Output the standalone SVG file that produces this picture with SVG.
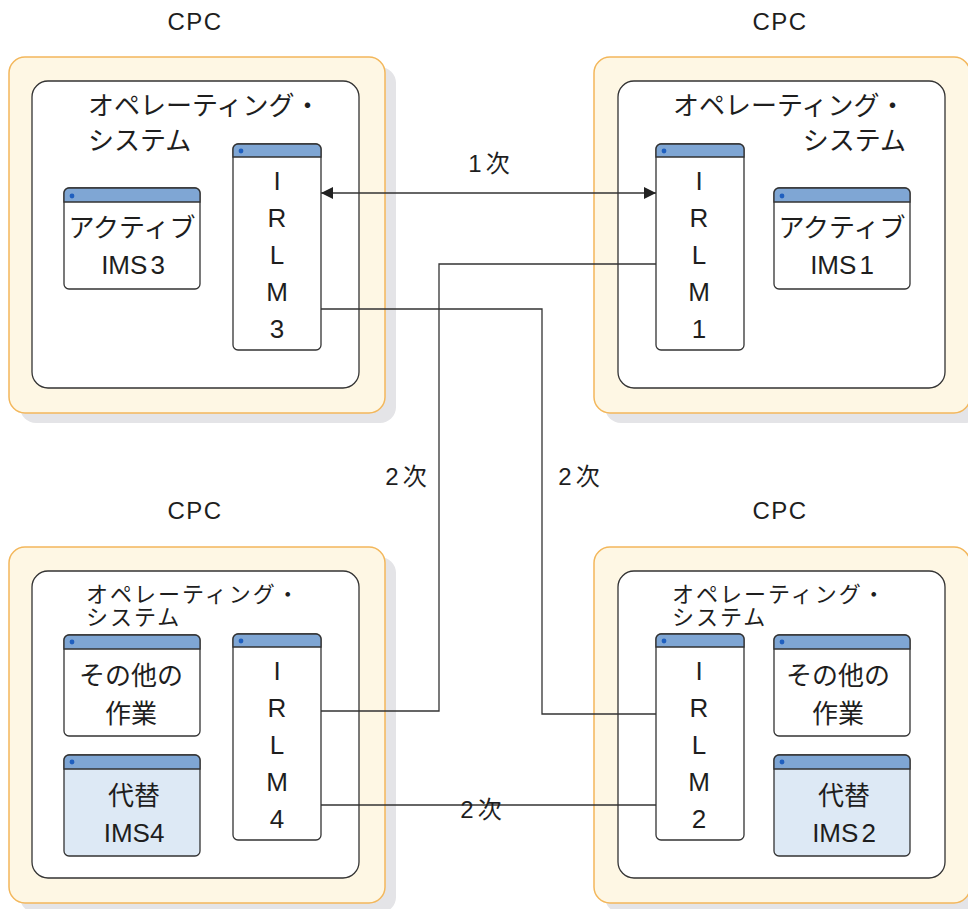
<svg xmlns="http://www.w3.org/2000/svg" width="968" height="909" viewBox="0 0 968 909">
<defs>
<style>
text{font-family:"Liberation Sans","Noto Sans CJK JP",sans-serif;fill:#1e1e1e;}
.lbl{font-size:24px;text-anchor:middle;}
.cpct{font-size:24px;text-anchor:middle;letter-spacing:1.5px;}
.os{font-size:26px;}
.os2{font-size:22px;letter-spacing:2px;}
.w{font-size:26px;text-anchor:middle;}
.wi{font-size:26px;text-anchor:middle;}
.ir{font-size:26px;text-anchor:middle;}
.shadow{fill:#e4e4e7;}
.cpc{fill:#fef7e4;stroke:#f3b75b;stroke-width:1.5;}
.inner{fill:#fff;stroke:#333;stroke-width:1.3;}
.win{fill:#fff;stroke:#333;stroke-width:1.3;}
.alt{fill:#dde9f5;}
.hdr{fill:#7fa6d4;stroke:#333;stroke-width:1.3;}
.dot{fill:#1f5fbf;}
.con{fill:none;stroke:#333;stroke-width:1.3;}
</style>
<marker id="ah" viewBox="0 0 12 12" refX="12" refY="6" markerWidth="12" markerHeight="12" markerUnits="userSpaceOnUse" orient="auto-start-reverse">
<path d="M0,0 L12,6 L0,12 z" fill="#222"/>
</marker>
</defs>
<rect width="968" height="909" fill="#fff"/>

<text class="cpct" x="195" y="30">CPC</text>
<text class="cpct" x="780" y="30">CPC</text>
<text class="cpct" x="195" y="519">CPC</text>
<text class="cpct" x="780" y="519">CPC</text>

<g id="cpc3">
<rect class="shadow" x="20" y="67" width="376" height="356" rx="16"/>
<rect class="cpc" x="9" y="57" width="376" height="356" rx="16"/>
<rect class="inner" x="32" y="81" width="327" height="307" rx="16"/>
<text class="os" x="88" y="115">オペレーティング・</text>
<text class="os" x="88" y="150">システム</text>
</g>
<g id="cpc1">
<rect class="shadow" x="605" y="67" width="376" height="356" rx="16"/>
<rect class="cpc" x="594" y="57" width="376" height="356" rx="16"/>
<rect class="inner" x="618" y="81" width="327" height="307" rx="16"/>
<text class="os" x="673" y="115">オペレーティング・</text>
<text class="os" x="906" y="150" text-anchor="end">システム</text>
</g>
<g id="cpc4">
<rect class="shadow" x="20" y="557" width="376" height="356" rx="16"/>
<rect class="cpc" x="9" y="547" width="376" height="356" rx="16"/>
<rect class="inner" x="32" y="571" width="327" height="307" rx="16"/>
<text class="os2" x="86" y="602">オペレーティング・</text>
<text class="os2" x="86" y="625">システム</text>
</g>
<g id="cpc2">
<rect class="shadow" x="605" y="557" width="376" height="356" rx="16"/>
<rect class="cpc" x="594" y="547" width="376" height="356" rx="16"/>
<rect class="inner" x="618" y="571" width="327" height="307" rx="16"/>
<text class="os2" x="672" y="602">オペレーティング・</text>
<text class="os2" x="672" y="625">システム</text>
</g>

<g id="connectors">
<line class="con" x1="321" y1="193" x2="656" y2="193" marker-start="url(#ah)" marker-end="url(#ah)"/>
<path class="con" d="M321,309 H542 V714 H656"/>
<path class="con" d="M656,264 H439 V711 H321"/>
<path class="con" d="M321,805 H656"/>
</g>

<g id="irlm3">
<rect class="win" x="233" y="144" width="88" height="206" rx="5"/>
<path class="hdr" d="M233,157 V149 a5,5 0 0 1 5,-5 H316 a5,5 0 0 1 5,5 V157 Z"/>
<circle class="dot" cx="241" cy="151" r="2.4"/>
<text class="ir" x="277" y="190">I</text>
<text class="ir" x="277" y="227">R</text>
<text class="ir" x="277" y="264">L</text>
<text class="ir" x="277" y="301">M</text>
<text class="ir" x="277" y="338">3</text>
</g>
<g id="irlm1">
<rect class="win" x="656" y="144" width="88" height="206" rx="5"/>
<path class="hdr" d="M656,157 V149 a5,5 0 0 1 5,-5 H739 a5,5 0 0 1 5,5 V157 Z"/>
<circle class="dot" cx="664" cy="151" r="2.4"/>
<text class="ir" x="699" y="190">I</text>
<text class="ir" x="699" y="227">R</text>
<text class="ir" x="699" y="264">L</text>
<text class="ir" x="699" y="301">M</text>
<text class="ir" x="699" y="338">1</text>
</g>
<g id="irlm4">
<rect class="win" x="233" y="634" width="88" height="206" rx="5"/>
<path class="hdr" d="M233,647 V639 a5,5 0 0 1 5,-5 H316 a5,5 0 0 1 5,5 V647 Z"/>
<circle class="dot" cx="241" cy="641" r="2.4"/>
<text class="ir" x="277" y="680">I</text>
<text class="ir" x="277" y="717">R</text>
<text class="ir" x="277" y="754">L</text>
<text class="ir" x="277" y="791">M</text>
<text class="ir" x="277" y="828">4</text>
</g>
<g id="irlm2">
<rect class="win" x="656" y="634" width="88" height="206" rx="5"/>
<path class="hdr" d="M656,647 V639 a5,5 0 0 1 5,-5 H739 a5,5 0 0 1 5,5 V647 Z"/>
<circle class="dot" cx="664" cy="641" r="2.4"/>
<text class="ir" x="699" y="680">I</text>
<text class="ir" x="699" y="717">R</text>
<text class="ir" x="699" y="754">L</text>
<text class="ir" x="699" y="791">M</text>
<text class="ir" x="699" y="828">2</text>
</g>

<g id="ims3">
<rect class="win" x="64" y="188" width="136" height="101" rx="5"/>
<path class="hdr" d="M64,202 V193 a5,5 0 0 1 5,-5 H195 a5,5 0 0 1 5,5 V202 Z"/>
<circle class="dot" cx="72" cy="196" r="2.4"/>
<text class="w" x="132" y="237">アクティブ</text>
<text class="wi" x="133" y="274">IMS<tspan dx="3">3</tspan></text>
</g>
<g id="ims1">
<rect class="win" x="774" y="188" width="136" height="101" rx="5"/>
<path class="hdr" d="M774,202 V193 a5,5 0 0 1 5,-5 H905 a5,5 0 0 1 5,5 V202 Z"/>
<circle class="dot" cx="782" cy="196" r="2.4"/>
<text class="w" x="842" y="237">アクティブ</text>
<text class="wi" x="842" y="274">IMS<tspan dx="3">1</tspan></text>
</g>
<g id="other4">
<rect class="win" x="64" y="635" width="136" height="101" rx="5"/>
<path class="hdr" d="M64,649 V640 a5,5 0 0 1 5,-5 H195 a5,5 0 0 1 5,5 V649 Z"/>
<circle class="dot" cx="72" cy="642" r="2.4"/>
<text class="w" x="131" y="685">その他の</text>
<text class="w" x="131" y="723">作業</text>
</g>
<g id="ims4">
<rect class="win alt" x="64" y="755" width="136" height="101" rx="5"/>
<path class="hdr" d="M64,769 V760 a5,5 0 0 1 5,-5 H195 a5,5 0 0 1 5,5 V769 Z"/>
<circle class="dot" cx="72" cy="762" r="2.4"/>
<text class="w" x="134" y="805">代替</text>
<text class="wi" x="134" y="842">IMS4</text>
</g>
<g id="other2">
<rect class="win" x="774" y="635" width="136" height="101" rx="5"/>
<path class="hdr" d="M774,649 V640 a5,5 0 0 1 5,-5 H905 a5,5 0 0 1 5,5 V649 Z"/>
<circle class="dot" cx="782" cy="642" r="2.4"/>
<text class="w" x="838" y="685">その他の</text>
<text class="w" x="838" y="723">作業</text>
</g>
<g id="ims2">
<rect class="win alt" x="774" y="755" width="136" height="101" rx="5"/>
<path class="hdr" d="M774,769 V760 a5,5 0 0 1 5,-5 H905 a5,5 0 0 1 5,5 V769 Z"/>
<circle class="dot" cx="782" cy="762" r="2.4"/>
<text class="w" x="844" y="805">代替</text>
<text class="wi" x="844" y="842">IMS<tspan dx="3">2</tspan></text>
</g>

<text class="lbl" x="489" y="172">1<tspan dx="4">次</tspan></text>
<text class="lbl" x="406" y="485">2<tspan dx="4">次</tspan></text>
<text class="lbl" x="579" y="485">2<tspan dx="4">次</tspan></text>
<text class="lbl" x="481" y="818">2<tspan dx="4">次</tspan></text>
</svg>
